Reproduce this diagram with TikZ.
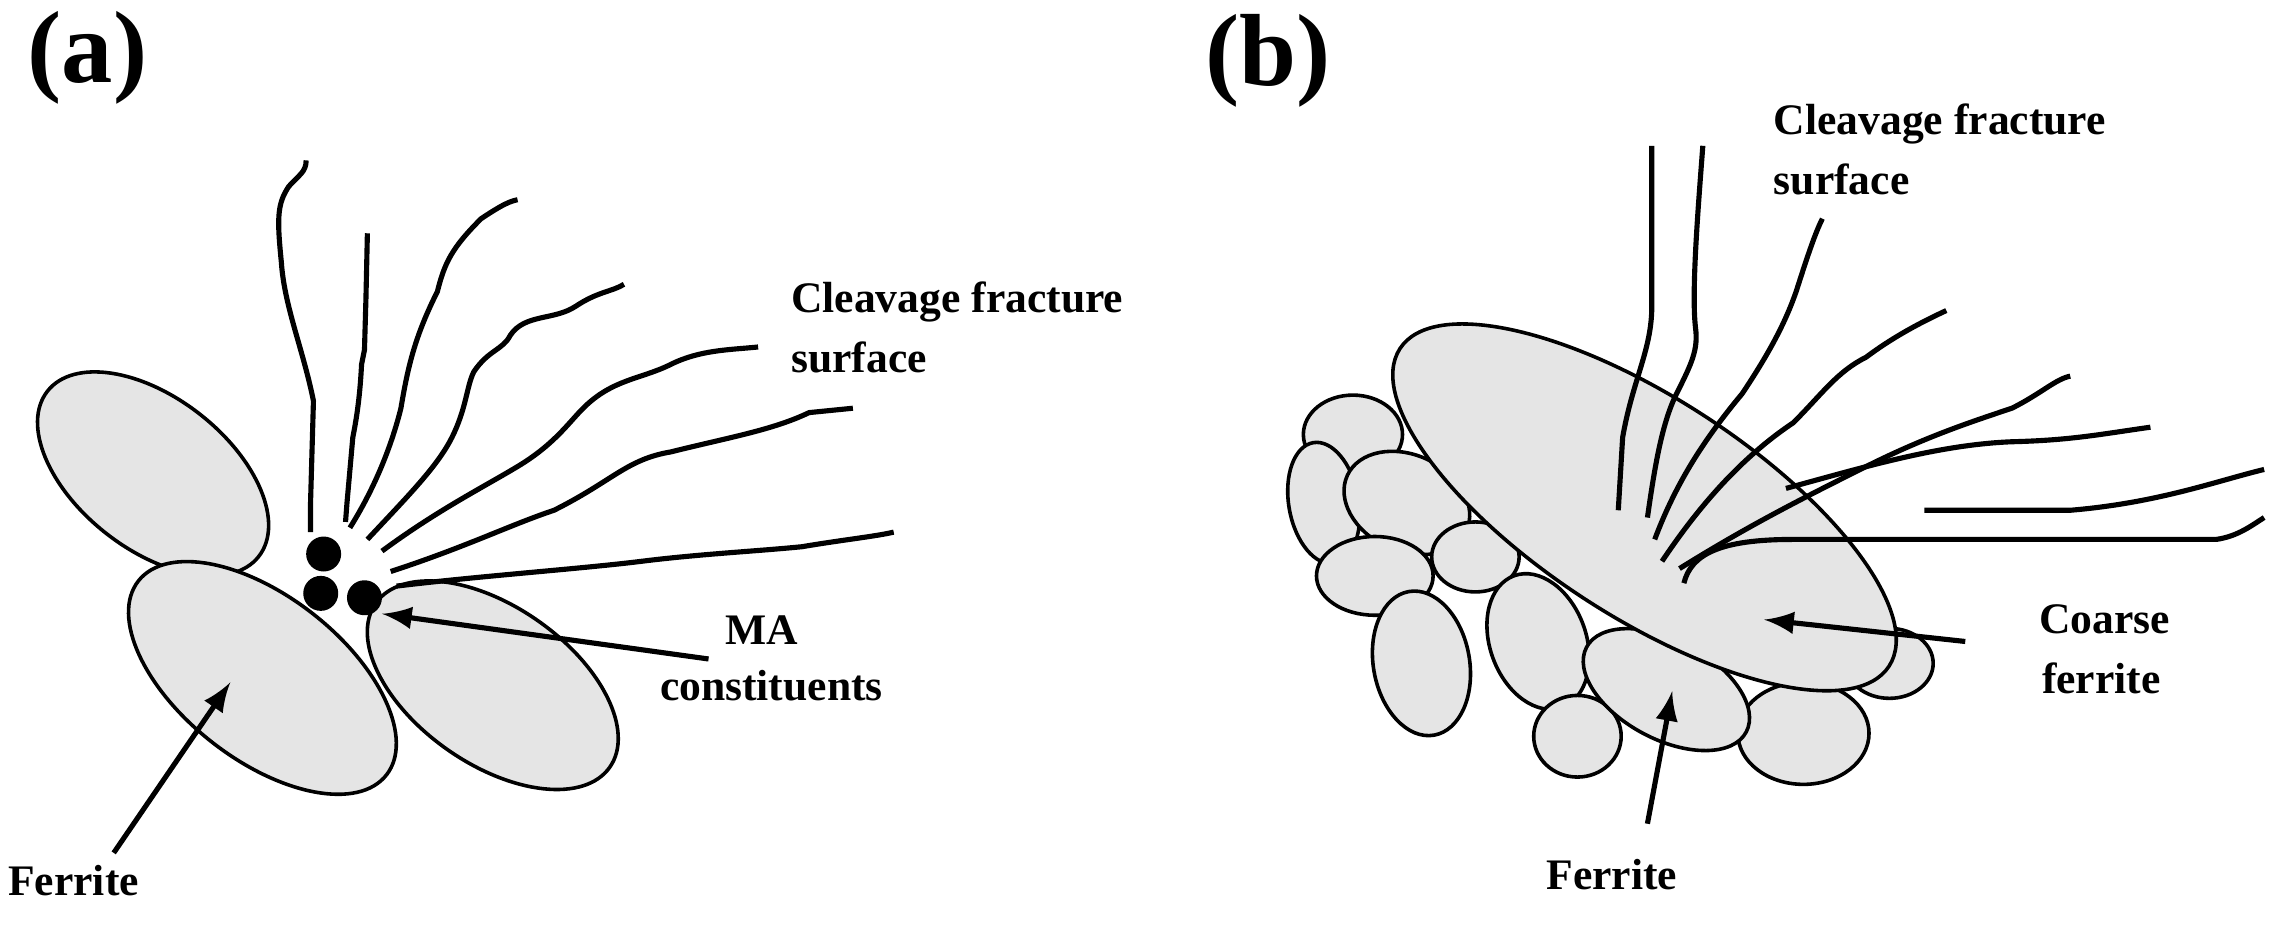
\documentclass[tikz,border=0pt]{standalone}
\usepackage{fontspec}
\setmainfont{Liberation Serif}
\begin{document}
\begin{tikzpicture}[x=0.01cm,y=-0.01cm,
 grain/.style={draw=black,fill=gray!20,line width=0.7pt},
 crack/.style={line width=1pt,line join=round},
 lbl/.style={font=\bfseries\fontsize{8.5}{10}\selectfont,anchor=west,inner sep=0pt},
 arr/.style={-latex,line width=1pt},
 panel/.style={font=\bfseries\fontsize{20}{22}\selectfont,inner sep=0pt}]
\useasboundingbox (0,0) rectangle (1568,636);
\node[panel] (pa) at (60,40) {(a)};
\node[panel] (pb) at (870,42) {(b)};
% panel a grains
\draw[grain,rotate around={-38:(105,325)}] (105,325) ellipse (92 and 52);
\draw[grain,rotate around={-38:(180,465)}] (180,465) ellipse (108 and 56);
\draw[grain,rotate around={-35:(338,470)}] (338,470) ellipse (98 and 54);
\foreach \p in {(222,380),(220,407),(250,410)} \fill \p circle (12);
% cracks a
\draw[crack] (213,365) -- (213,345) -- (215,275) .. controls (208,240) and (195,210) .. (193,180) .. controls (190,150) and (190,140) .. (198,128) .. controls (205,120) and (210,118) .. (210,110);
\draw[crack] (237,358) -- (238,345) -- (242,300) .. controls (245,285) and (247,270) .. (248,250) -- (250,240) -- (251,205) -- (252,160);
\draw[crack] (240,362) .. controls (260,330) and (270,300) .. (275,280) .. controls (280,250) and (285,230) .. (300,200) .. controls (305,180) and (310,170) .. (330,150) .. controls (345,140) and (350,138) .. (355,137);
\draw[crack] (252,370) .. controls (280,340) and (300,320) .. (310,300) .. controls (320,280) and (320,265) .. (325,255) .. controls (335,240) and (345,240) .. (350,230) .. controls (360,215) and (380,220) .. (395,210) .. controls (410,200) and (420,200) .. (428,195);
\draw[crack] (262,378) .. controls (300,350) and (330,335) .. (355,320) .. controls (380,305) and (390,290) .. (400,280) .. controls (420,260) and (440,260) .. (460,250) .. controls (480,240) and (500,240) .. (520,238);
\draw[crack] (268,392) .. controls (320,375) and (350,360) .. (380,350) .. controls (420,330) and (430,315) .. (460,310) .. controls (500,300) and (530,295) .. (555,283) -- (585,280);
\draw[crack] (272,402) .. controls (330,395) and (400,390) .. (440,385) .. controls (480,380) and (520,378) .. (550,375) .. controls (580,370) and (600,368) .. (613,365);
\node[lbl] (ca) at (542,207) {Cleavage fracture};
\node[lbl] (cb) at (542,245) {surface};
\node[lbl] (ma1) at (497,432) {MA};
\node[lbl] (ma2) at (452,470) {constituents};
\node[lbl] (fa) at (5,604) {Ferrite};
\coordinate (ta) at (158,468);
\coordinate (tma) at (262,421);
\draw[arr] (78,585) -- (ta);
\draw[arr] (486,452) -- (tma);
% panel b small grains
\draw[grain] (928,298) ellipse (34 and 27);
\draw[grain,rotate around={10:(908,345)}] (908,345) ellipse (24 and 42);
\draw[grain,rotate around={-25:(965,345)}] (965,345) ellipse (45 and 33);
\draw[grain] (943,395) ellipse (40 and 27);
\draw[grain] (1012,382) ellipse (30 and 24);
\draw[grain,rotate around={10:(975,455)}] (975,455) ellipse (33 and 50);
\draw[grain,rotate around={20:(1055,440)}] (1055,440) ellipse (33 and 48);
\draw[grain] (1082,505) ellipse (30 and 28);
\draw[grain] (1237,503) ellipse (45 and 35);
\draw[grain] (1296,455) ellipse (30 and 24);
\draw[grain,rotate around={-28:(1143,473)}] (1143,473) ellipse (62 and 34);
\draw[grain,rotate around={-33:(1128,348)}] (1128,348) ellipse (200 and 75);
% cracks b
\draw[crack] (1110,350) -- (1113,300) .. controls (1120,260) and (1133,240) .. (1133,210) -- (1133,100);
\draw[crack] (1130,355) .. controls (1135,320) and (1140,290) .. (1150,270) .. controls (1160,250) and (1165,240) .. (1163,225) .. controls (1160,200) and (1165,140) .. (1168,100);
\draw[crack] (1135,370) .. controls (1150,330) and (1170,300) .. (1195,270) .. controls (1215,240) and (1225,220) .. (1232,200) .. controls (1240,175) and (1245,160) .. (1250,150);
\draw[crack] (1140,385) .. controls (1170,340) and (1200,310) .. (1230,290) .. controls (1250,270) and (1260,255) .. (1280,245) .. controls (1300,230) and (1320,220) .. (1335,213);
\draw[crack] (1152,390) .. controls (1200,360) and (1240,340) .. (1280,320) .. controls (1320,300) and (1350,290) .. (1380,280) .. controls (1400,270) and (1410,260) .. (1420,258);
\draw[crack] (1155,400) .. controls (1160,380) and (1180,370) .. (1230,370) -- (1520,370) .. controls (1535,368) and (1545,360) .. (1553,355);
\draw[crack] (1225,335) .. controls (1280,320) and (1330,305) .. (1380,303) .. controls (1420,302) and (1440,298) .. (1475,293);
\draw[crack] (1320,350) -- (1420,350) .. controls (1480,345) and (1520,330) .. (1553,322);
\node[lbl] (cc) at (1216,85) {Cleavage fracture};
\node[lbl] (cd) at (1216,123) {surface};
\node[lbl] (co1) at (1398,425) {Coarse};
\node[lbl] (co2) at (1400,465) {ferrite};
\node[lbl] (fb) at (1060,600) {Ferrite};
\coordinate (tc) at (1210,425);
\coordinate (tf) at (1147,474);
\draw[arr] (1348,440) -- (tc);
\draw[arr] (1130,565) -- (tf);
\end{tikzpicture}
\end{document}
